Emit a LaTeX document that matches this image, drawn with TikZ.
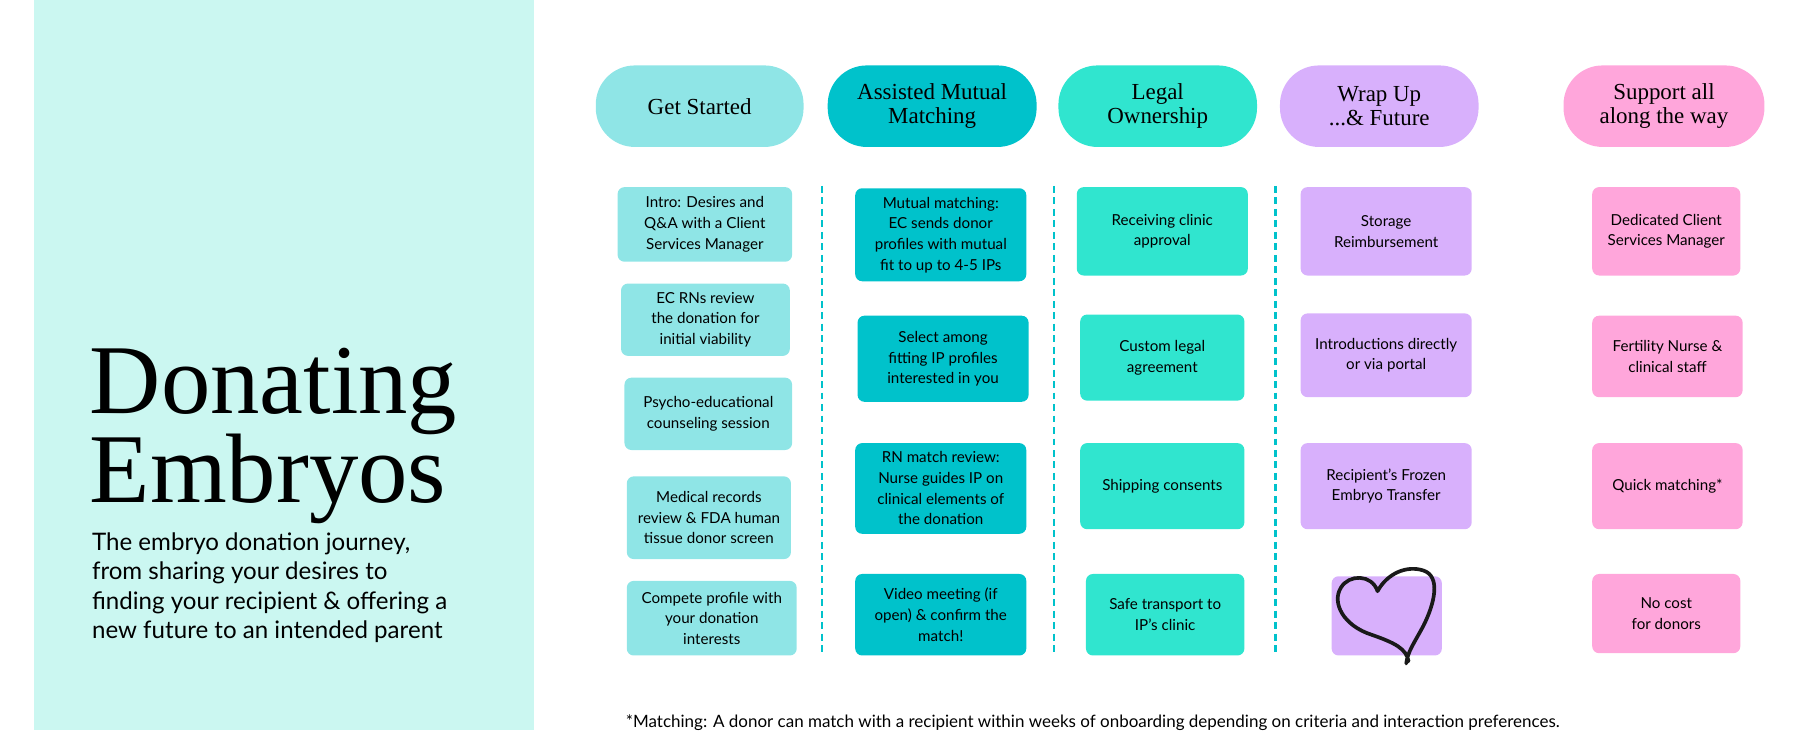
\documentclass[tikz,border=0pt]{standalone}
\usepackage{fontspec}
\setmainfont{Lato}
\newfontfamily\hd{Liberation Serif}
\begin{document}
\begin{tikzpicture}[x=1pt,y=-1pt,
 bx/.style={rounded corners=6pt,align=center,font=\fontsize{13.2}{18}\selectfont,inner sep=0pt},
 hdr/.style={rounded corners=34pt,align=center,font=\hd\fontsize{20}{21}\selectfont,inner sep=0pt},
 dsh/.style={draw=cA,line width=2pt,dash pattern=on 6pt off 4pt}]
\definecolor{cP}{HTML}{CBF7F1}
\definecolor{cG}{HTML}{8FE5E6}
\definecolor{cA}{HTML}{00C2CB}
\definecolor{cL}{HTML}{30E5CF}
\definecolor{cW}{HTML}{D8B0FC}
\definecolor{cS}{HTML}{FFA6DB}
\useasboundingbox (0,0) rectangle (1568,653);
\fill[cP] (30,0) rectangle (465,636);
\node[anchor=base west,font=\hd\fontsize{86}{86}\selectfont,inner sep=0pt] (t1) at (78,360) {Donating};
\node[anchor=base west,font=\hd\fontsize{86}{86}\selectfont,inner sep=0pt] (t2) at (78,438) {Embryos};
\node[anchor=north west,align=left,font=\fontsize{21}{25.5}\selectfont,inner sep=0pt] (sub) at (80,464) {The embryo donation journey,\\from sharing your desires to\\finding your recipient \& offering a\\new future to an intended parent};
% headers
\node[hdr,fill=cG,minimum width=181,minimum height=71] (h1) at (609.5,92.5) {Get Started};
\node[hdr,fill=cA,minimum width=182,minimum height=71] (h2) at (812,92.5) {Assisted Mutual\\Matching};
\node[hdr,fill=cL,minimum width=173,minimum height=71] (h3) at (1008.5,92.5) {Legal\\Ownership};
\node[hdr,fill=cW,minimum width=173,minimum height=71] (h4) at (1201.5,92.5) {Wrap Up\\...\& Future};
\node[hdr,fill=cS,minimum width=175,minimum height=71] (h5) at (1449.5,92.5) {Support all\\along the way};
% boxes
\def\B#1#2#3#4#5#6#7{\node[bx,fill=#2,minimum width={#5-#3},minimum height={#6-#4}] (#1) at ({(#3+#5)/2},{(#4+#6)/2}) {#7};}
\B{a1}{cG}{538}{163}{690}{228}{Intro: Desires and\\Q\&A with a Client\\Services Manager}
\B{a2}{cG}{541}{247}{688}{310}{EC RNs review\\the donation for\\initial viability}
\B{a3}{cG}{544}{329}{690}{392}{Psycho-educational\\counseling session}
\B{a4}{cG}{546}{415}{689}{487}{Medical records\\review \& FDA human\\tissue donor screen}
\B{a5}{cG}{546}{506}{694}{571}{Compete profile with\\your donation\\interests}
\B{b1}{cA}{745}{164}{894}{245}{Mutual matching:\\EC sends donor\\profiles with mutual\\fit to up to 4-5 IPs}
\B{b2}{cA}{747}{275}{896}{350}{Select among\\fitting IP profiles\\interested in you}
\B{b3}{cA}{745}{386}{894}{465}{RN match review:\\Nurse guides IP on\\clinical elements of\\the donation}
\B{b4}{cA}{745}{500}{894}{571}{Video meeting (if\\open) \& confirm the\\match!}
\B{c1}{cL}{938}{163}{1087}{240}{Receiving clinic\\approval}
\B{c2}{cL}{941}{274}{1084}{349}{Custom legal\\agreement}
\B{c3}{cL}{941}{386}{1084}{461}{Shipping consents}
\B{c4}{cL}{946}{500}{1084}{571}{Safe transport to\\IP's clinic}
\B{d1}{cW}{1133}{163}{1282}{240}{Storage\\Reimbursement}
\B{d2}{cW}{1133}{273}{1282}{346}{Introductions directly\\or via portal}
\B{d3}{cW}{1133}{386}{1282}{461}{Recipient's Frozen\\Embryo Transfer}
\B{d4}{cW}{1160}{502}{1256}{571}{}
\B{e1}{cS}{1387}{163}{1516}{240}{Dedicated Client\\Services Manager}
\B{e2}{cS}{1387}{275}{1518}{346}{Fertility Nurse \&\\clinical staff}
\B{e3}{cS}{1387}{386}{1518}{461}{Quick matching*}
\B{e4}{cS}{1387}{500}{1516}{569}{No cost\\for donors}
% heart
\draw[line width=3.2pt,line cap=round,line join=round,black!90]
 (1227,576) .. controls (1225,565) and (1215,560) .. (1195,553)
 .. controls (1170,545) and (1160,525) .. (1168,512)
 .. controls (1175,500) and (1195,500) .. (1200,515)
 .. controls (1208,500) and (1225,492) .. (1240,497)
 .. controls (1255,502) and (1250,525) .. (1240,545)
 .. controls (1232,560) and (1226,568) .. (1225,578);
% dashed
\draw[dsh] (716,162) -- (716,570);
\draw[dsh] (918,162) -- (918,570);
\draw[dsh] (1111,162) -- (1111,570);
\node[anchor=base west,font=\fontsize{14.8}{16}\selectfont,inner sep=0pt] (fn) at (545,634) {*Matching: A donor can match with a recipient within weeks of onboarding depending on criteria and interaction preferences.};
\end{tikzpicture}
\end{document}
